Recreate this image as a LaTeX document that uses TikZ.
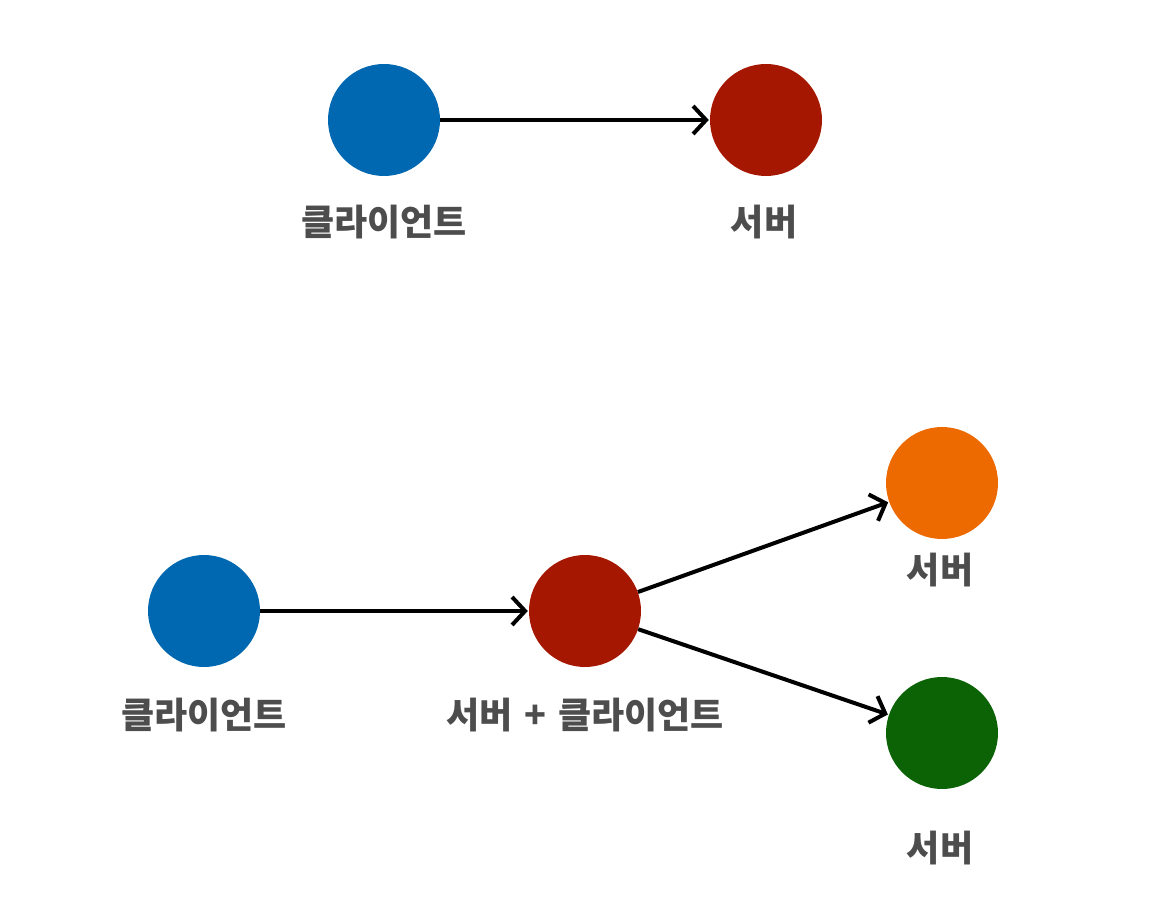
\documentclass[tikz,border=0pt]{standalone}
\usepackage{fontspec}
\newfontfamily\kr{Noto Sans CJK KR}
\usetikzlibrary{arrows.meta}
\definecolor{cblue}{HTML}{0068B0}
\definecolor{cred}{HTML}{A51700}
\definecolor{corange}{HTML}{EC6A00}
\definecolor{cgreen}{HTML}{0B6306}
\definecolor{ctext}{HTML}{4D4D4D}
\tikzset{
  dot/.style={circle, minimum size=112pt, inner sep=0pt, draw=none, fill=#1},
  lbl/.style={text=ctext, font=\kr\bfseries\fontsize{36}{40}\selectfont, inner sep=0pt},
  conn/.style={line width=4pt, draw=black, -{Straight Barb[length=13pt,width=28pt,line width=4pt]}, shorten >=1pt}
}
\begin{document}
\begin{tikzpicture}[x=1pt,y=-1pt]
\useasboundingbox (0,0) rectangle (1163,909);
% top
\node[dot=cblue] (c1) at (384,120) {};
\node[dot=cred] (s1) at (766,120) {};
\node[lbl] (lc1) at (384,222) {클라이언트};
\node[lbl] (ls1) at (764,222) {서버};
\draw[conn] (c1) -- (s1);
% bottom
\node[dot=cblue] (c2) at (204,611) {};
\node[dot=cred] (m2) at (585,611) {};
\node[dot=corange] (o2) at (942,483) {};
\node[dot=cgreen] (g2) at (942,733) {};
\node[lbl] (lc2) at (204,715) {클라이언트};
\node[lbl] (lm2) at (585,715) {서버\,\,+\,\,클라이언트};
\node[lbl] (lo2) at (940,570) {서버};
\node[lbl] (lg2) at (940,848) {서버};
\draw[conn] (c2) -- (m2);
\draw[conn] (m2) -- (o2);
\draw[conn] (m2) -- (g2);
\end{tikzpicture}
\end{document}
